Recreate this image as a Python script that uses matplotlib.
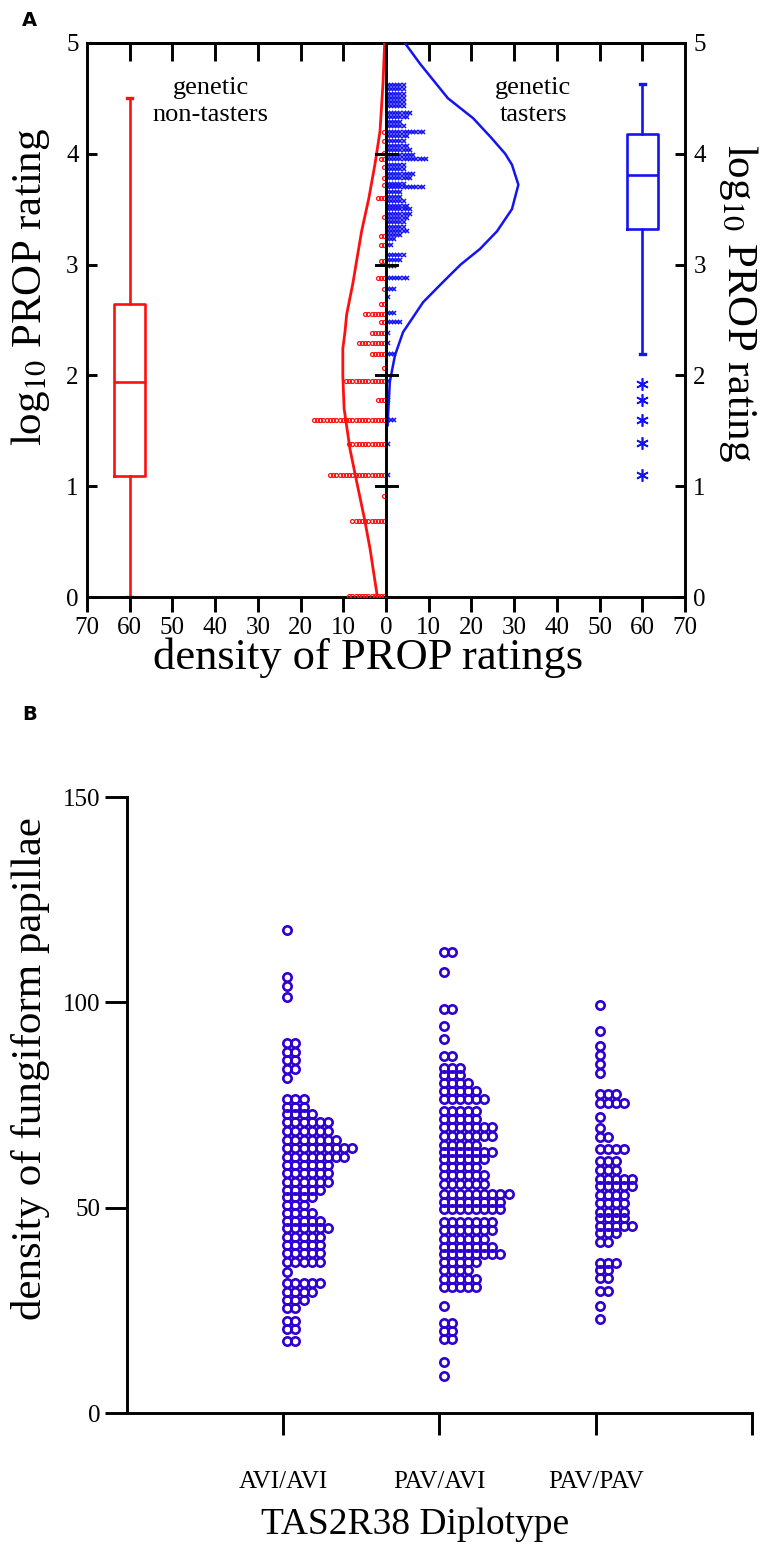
import numpy as np
import matplotlib
matplotlib.use("Agg")
import matplotlib.pyplot as plt

plt.rcParams['font.family'] = ['Liberation Serif', 'DejaVu Serif']
plt.rcParams['mathtext.fontset'] = 'stix'

# ---------------- Panel A data ----------------
# non-tasters (red): rating rows and number of markers in each row
red_row_rating = [0.01, 0.69, 0.91, 1.10, 1.38, 1.60, 1.78, 1.95, 2.07, 2.19, 2.29, 2.38,
                  2.48, 2.55, 2.64, 2.78, 2.88, 3.03, 3.18, 3.26, 3.43, 3.60, 3.72, 3.78,
                  3.88, 3.95, 4.01, 4.11, 4.20]
red_row_count = [12, 11, 1, 18, 12, 23, 3, 13, 1, 5, 9, 5,
                 2, 7, 2, 1, 3, 2, 2, 2, 1, 3, 1, 1,
                 1, 2, 1, 1, 1]
# tasters (blue)
blue_row_rating = [4.62, 4.58, 4.54, 4.50, 4.47, 4.43, 4.37, 4.33, 4.29, 4.25, 4.20, 4.16,
                   4.11, 4.07, 4.03, 3.99, 3.95, 3.90, 3.86, 3.82, 3.78, 3.73, 3.70, 3.65,
                   3.61, 3.57, 3.53, 3.50, 3.46, 3.42, 3.38, 3.34, 3.30, 3.27, 3.23, 3.18,
                   3.09, 3.04, 2.99, 2.88, 2.78, 2.71, 2.56, 2.48, 2.38, 2.29, 2.19, 1.95,
                   1.78, 1.60, 1.38, 1.10]
blue_row_count = [6, 6, 6, 6, 6, 6, 8, 7, 5, 6, 12, 7,
                  6, 7, 8, 9, 13, 6, 6, 9, 8, 6, 12, 5,
                  5, 6, 7, 8, 8, 7, 6, 6, 7, 5, 3, 2,
                  6, 5, 3, 7, 3, 1, 3, 5, 1, 1, 3, 1,
                  1, 3, 1, 1]

# density curves (rating, density)
red_curve_rating = [0.0, 0.2, 0.43, 0.7, 1.03, 1.33, 1.7, 2.0, 2.24, 2.39, 2.55, 2.84,
                    3.05, 3.30, 3.6, 3.90, 4.2, 4.63, 5.0]
red_curve_density = [2.0, 2.8, 3.7, 5.0, 6.8, 8.4, 9.8, 10.1, 10.1, 9.6, 9.2, 7.7,
                     6.8, 5.7, 4.0, 2.6, 1.4, 0.7, 0.3]
blue_curve_rating = [1.55, 1.64, 1.94, 2.18, 2.39, 2.66, 2.84, 3.0, 3.14, 3.3, 3.5, 3.72,
                     3.9, 4.0, 4.15, 4.32, 4.5, 4.81, 5.0]
blue_curve_density = [0.4, 0.5, 0.9, 2.1, 4.0, 8.7, 13.3, 17.5, 22.0, 26.0, 29.5, 31.0,
                      29.5, 27.9, 24.5, 20.4, 14.5, 8.0, 4.4]

# box plot summaries
red_box = dict(med=1.94, q1=1.09, q3=2.645, whislo=0.0, whishi=4.50, fliers=[])
blue_box = dict(med=3.81, q1=3.32, q3=4.18, whislo=2.19, whishi=4.63,
                fliers=[1.92, 1.78, 1.60, 1.39, 1.105])

a_xticks = [-70, -60, -50, -40, -30, -20, -10, 0, 10, 20, 30, 40, 50, 60, 70]
a_xticklabels = ['70', '60', '50', '40', '30', '20', '10', '0', '10', '20', '30', '40', '50', '60', '70']
a_yticks = [0, 1, 2, 3, 4, 5]

# ---------------- Panel B data ----------------
b_categories = ['AVI/AVI', 'PAV/AVI', 'PAV/PAV']
avi_avi_value = [117.6, 106.2, 104.0, 101.2, 90.0, 88.0, 86.0, 83.9, 81.5, 76.6, 74.6, 72.8,
                 70.9, 68.7, 66.6, 64.5, 62.4, 60.4, 58.4, 56.3, 54.3, 52.7, 50.6, 48.6,
                 46.8, 45.0, 42.9, 40.9, 38.9, 36.8, 34.4, 31.6, 29.5, 27.5, 25.5, 22.5,
                 20.5, 17.5]
avi_avi_count = [1, 1, 1, 1, 2, 2, 2, 2, 1, 3, 3, 4,
                 6, 6, 7, 9, 8, 6, 6, 6, 5, 4, 3, 4,
                 5, 6, 5, 5, 5, 5, 1, 5, 4, 3, 2, 2,
                 2, 2]
pav_avi_value = [112.3, 107.3, 98.3, 94.3, 91.0, 86.9, 84.1, 82.3, 80.4, 78.5, 76.5, 73.5,
                 71.5, 69.6, 67.5, 65.4, 63.6, 61.8, 59.8, 57.9, 55.9, 53.3, 51.4, 49.6,
                 46.6, 44.6, 42.5, 40.5, 38.7, 36.8, 34.8, 32.6, 30.6, 26.0, 22.0, 20.0,
                 18.0, 12.5, 9.0]
pav_avi_count = [2, 1, 2, 1, 1, 2, 3, 3, 4, 5, 6, 5,
                 5, 7, 7, 5, 7, 6, 5, 6, 6, 9, 8, 8,
                 7, 7, 6, 7, 8, 5, 4, 5, 5, 1, 2, 2,
                 2, 1, 1]
pav_pav_value = [99.3, 93.0, 89.4, 87.2, 85.0, 82.9, 77.6, 75.4, 72.0, 69.5, 67.3, 64.2,
                 61.3, 59.1, 57.1, 55.2, 53.1, 51.1, 49.0, 47.4, 45.6, 43.8, 41.7, 36.6,
                 34.8, 32.8, 29.8, 26.0, 23.0]
pav_pav_count = [1, 1, 1, 1, 1, 1, 3, 4, 1, 1, 2, 4,
                 3, 3, 5, 5, 4, 4, 4, 4, 5, 3, 2, 3,
                 2, 2, 2, 1, 1]
b_yticks = [0, 50, 100, 150]

RED = '#FF1010'
BLUE = '#1414F0'
PURPLE = '#3000D0'
LW = 2.1

fig = plt.figure(figsize=(7.69, 15.46), dpi=100)

# ================= Panel A =================
axA = fig.add_axes([0.1131, 0.6138, 0.7776, 0.3585])
axA.set_xlim(-70, 70)
axA.set_ylim(0, 5)

step_a = 0.75
for v, n in zip(red_row_rating, red_row_count):
    xs = -(np.arange(n) + 0.5) * step_a
    axA.plot(xs, np.full(n, v), linestyle='none', marker='o', markersize=2.8,
             markerfacecolor='none', markeredgecolor=RED, markeredgewidth=0.9, zorder=3)
for v, n in zip(blue_row_rating, blue_row_count):
    xs = (np.arange(n) + 0.5) * step_a
    axA.plot(xs, np.full(n, v), linestyle='none', marker='x', markersize=3.2,
             markeredgecolor=BLUE, markeredgewidth=1.1, zorder=3)

axA.plot(-np.array(red_curve_density), red_curve_rating, color=RED, lw=2.0, zorder=4)
axA.plot(blue_curve_density, blue_curve_rating, color=BLUE, lw=1.8, zorder=4)

# center line with crossing ticks
axA.plot([0, 0], [0, 5], color='black', lw=LW, zorder=5)
for t in [1, 2, 3, 4]:
    axA.plot([-2.3, 2.6], [t, t], color='black', lw=LW, zorder=5)

# box plots
for stats, pos, col in [(red_box, -60, RED), (blue_box, 60, BLUE)]:
    axA.bxp([stats], positions=[pos], widths=7.3, capwidths=[1.2],
            boxprops=dict(color=col, lw=1.9), medianprops=dict(color=col, lw=1.9),
            whiskerprops=dict(color=col, lw=1.9), capprops=dict(color=col, lw=2.4),
            flierprops=dict(marker=(6, 2, 0), markersize=9, markeredgecolor=col,
                            markeredgewidth=1.2, linestyle='none'),
            manage_ticks=False)

axA.text(-41.0, 4.47, 'genetic\nnon-tasters', ha='center', va='center', fontsize=19,
         linespacing=1.25)
axA.text(34.5, 4.47, 'genetic\ntasters', ha='center', va='center', fontsize=19,
         linespacing=1.25)

for s in axA.spines.values():
    s.set_linewidth(LW)
axA.set_xticks(a_xticks)
axA.set_xticklabels(a_xticklabels)
axA.set_yticks(a_yticks)
axA.tick_params(axis='x', bottom=True, top=False, direction='out', length=11, width=LW,
                labelsize=18, pad=3)
axA.tick_params(axis='y', left=True, right=True, labelleft=True, labelright=True,
                direction='in', length=7, width=LW, labelsize=18, pad=6)
sec = axA.secondary_xaxis('top')
sec.set_xticks(a_xticks[1:-1])
sec.tick_params(direction='in', length=13, width=LW, labeltop=False)
sec.spines['top'].set_linewidth(LW)

axA.text(0.47, -0.11, 'density of PROP ratings', transform=axA.transAxes,
         ha='center', va='center', fontsize=32)
axA.text(-0.095, 0.56, r'log$_{10}$ PROP rating', transform=axA.transAxes, rotation=90,
         ha='center', va='center', fontsize=31)
axA.text(1.09, 0.53, r'log$_{10}$ PROP rating', transform=axA.transAxes, rotation=-90,
         ha='center', va='center', fontsize=31)

fig.text(22 / 769, 1 - 20 / 1546, 'A', fontsize=14, fontweight='bold',
         family='DejaVu Sans', ha='left', va='center')

# ================= Panel B =================
axB = fig.add_axes([0.1651, 0.0860, 0.8127, 0.3984])
axB.set_xlim(0, 4)
axB.set_ylim(0, 150)
step_b = 0.052
groups = [(avi_avi_value, avi_avi_count), (pav_avi_value, pav_avi_count),
          (pav_pav_value, pav_pav_count)]
for gi, (vals, cnts) in enumerate(groups):
    cx = gi + 1
    for v, n in zip(vals, cnts):
        xs = cx + (np.arange(n) + 0.5) * step_b
        axB.plot(xs, np.full(n, v), linestyle='none', marker='o', markersize=6.0,
                 markerfacecolor='none', markeredgecolor=PURPLE, markeredgewidth=1.9,
                 clip_on=False)

axB.spines['top'].set_visible(False)
axB.spines['right'].set_visible(False)
axB.spines['left'].set_linewidth(LW)
axB.spines['bottom'].set_linewidth(LW)
axB.set_xticks([1, 2, 3, 4])
axB.set_xticklabels(b_categories + [''])
axB.set_yticks(b_yticks)
axB.tick_params(axis='y', direction='out', length=16, width=LW, labelsize=18, pad=3)
axB.tick_params(axis='x', direction='out', length=16, width=LW, labelsize=18, pad=26)
axB.text(0.461, -0.181, 'TAS2R38 Diplotype', transform=axB.transAxes,
         ha='center', va='center', fontsize=27)
axB.text(-0.154, 0.56, 'density of fungiform papillae', transform=axB.transAxes,
         rotation=90, ha='center', va='center', fontsize=31)

fig.text(22 / 769, 1 - 715 / 1546, 'B', fontsize=14, fontweight='bold',
         family='DejaVu Sans', ha='left', va='center')

fig.savefig('out.png', dpi=100)
